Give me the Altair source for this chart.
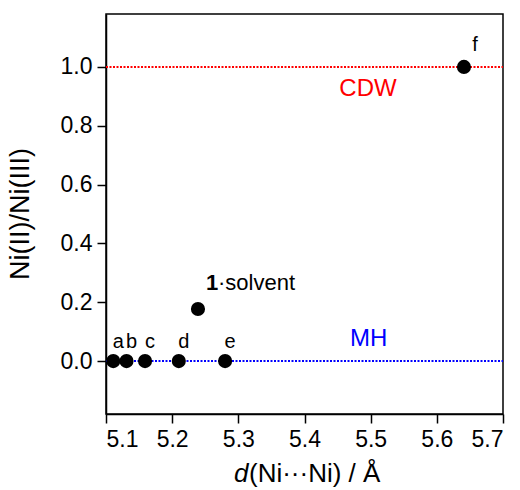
import altair as alt
import pandas as pd

# data
labels = ["a", "b", "c", "d", "e"]
dist = [5.111, 5.131, 5.159, 5.210, 5.280]
ratio = [0.0, 0.0, 0.0, 0.0, 0.0]
f_label = ["f"]
f_x = [5.641]
f_y = [1.0]
solvent_x = [5.239]
solvent_y = [0.177]
ref_levels = [1.0, 0.0]
ref_names = ["CDW", "MH"]
ref_colors = ["#ff0000", "#0000ff"]
ref_label_x = [5.496, 5.497]
ref_label_y = [0.925, 0.075]
x_ticks = [5.1, 5.2, 5.3, 5.4, 5.5, 5.6, 5.7]
y_ticks = [0.0, 0.2, 0.4, 0.6, 0.8, 1.0]

pts = pd.DataFrame({"x": dist + f_x, "y": ratio + f_y})
lab_df = pd.DataFrame({"x": dist, "y": ratio, "lab": labels})
f_df = pd.DataFrame({"x": f_x, "y": f_y, "lab": f_label})
sol = pd.DataFrame({"x": solvent_x, "y": solvent_y})
refs = pd.DataFrame({"x": [x_ticks[0]] * 2, "x1": [x_ticks[-1]] * 2, "y": ref_levels,
                     "color": ref_colors})
ref_lab = pd.DataFrame({"x": ref_label_x, "y": ref_label_y, "name": ref_names,
                        "color": ref_colors})

FONT = "Liberation Sans"
TICK_FS = 23
xs = alt.Scale(domain=[5.1, 5.7], nice=False, zero=False)
ys = alt.Scale(domain=[-0.18, 1.18], nice=False, zero=False)

xax = alt.Axis(values=x_ticks, format=".1f", title=None, labelPadding=5,
               labelFontSize=TICK_FS, labelFont=FONT, labelColor="black")
yax = alt.Axis(values=y_ticks, format=".1f", title=None, labelPadding=5,
               labelFontSize=TICK_FS, labelFont=FONT, labelColor="black")

X = alt.X("x:Q", scale=xs, axis=xax)
Y = alt.Y("y:Q", scale=ys, axis=yax)

lines = alt.Chart(refs).mark_rule(strokeDash=[2, 1.5], strokeWidth=2).encode(
    x=X, x2="x1:Q", y=Y,
    color=alt.Color("color:N", scale=None),
)

reflab = alt.Chart(ref_lab).mark_text(font=FONT, fontSize=24, align="center").encode(
    x=X, y=Y, text="name:N", color=alt.Color("color:N", scale=None),
)

points = alt.Chart(pts).mark_circle(size=200, color="black", opacity=1).encode(x=X, y=Y)
ptlab = alt.Chart(lab_df).mark_text(font=FONT, fontSize=20, dx=5, dy=-19, color="black").encode(
    x=X, y=Y, text="lab:N",
)
flab = alt.Chart(f_df).mark_text(font=FONT, fontSize=20, dx=11, dy=-22, color="black").encode(
    x=X, y=Y, text="lab:N",
)

solpt = alt.Chart(sol).mark_circle(size=200, color="black", opacity=1).encode(x=X, y=Y)
sol1 = alt.Chart(sol).mark_text(font=FONT, fontSize=22, fontWeight="bold", align="left",
                               dx=8, dy=-26, color="black").encode(
    x=X, y=Y, text=alt.value("1"),
)
sol2 = alt.Chart(sol).mark_text(font=FONT, fontSize=22, align="left",
                               dx=20, dy=-26, color="black").encode(
    x=X, y=Y, text=alt.value("·solvent"),
)

xt1 = alt.Chart(sol).mark_text(font=FONT, fontSize=26, fontStyle="italic", align="left",
                              baseline="alphabetic", color="black").encode(
    x=alt.value(128), y=alt.value(468), text=alt.value("d"),
)
xt2 = alt.Chart(sol).mark_text(font=FONT, fontSize=26, align="left",
                              baseline="alphabetic", color="black").encode(
    x=alt.value(143), y=alt.value(468), text=alt.value("(Ni···Ni) / Å"),
)
yt = alt.Chart(sol).mark_text(font=FONT, fontSize=27, angle=270, align="center",
                             baseline="middle", color="black").encode(
    x=alt.value(-85), y=alt.value(200), text=alt.value("Ni(II)/Ni(III)"),
)

chart = alt.layer(lines, reflab, points, ptlab, flab, solpt, sol1, sol2, xt1, xt2, yt).properties(
    width=397, height=400,
    autosize=alt.AutoSizeParams(type="none"),
    padding={"left": 106, "top": 14, "right": 17, "bottom": 76},
    background="white",
).configure_view(stroke="black", strokeWidth=1.5).configure_axis(
    grid=False, tickColor="black", domainColor="black", domainWidth=1.5,
    tickWidth=1.5, tickSize=9, labelFontSize=TICK_FS, labelColor="black", labelFont=FONT,
)

chart.save("out.html", embed_options={"renderer": "svg", "actions": False})
